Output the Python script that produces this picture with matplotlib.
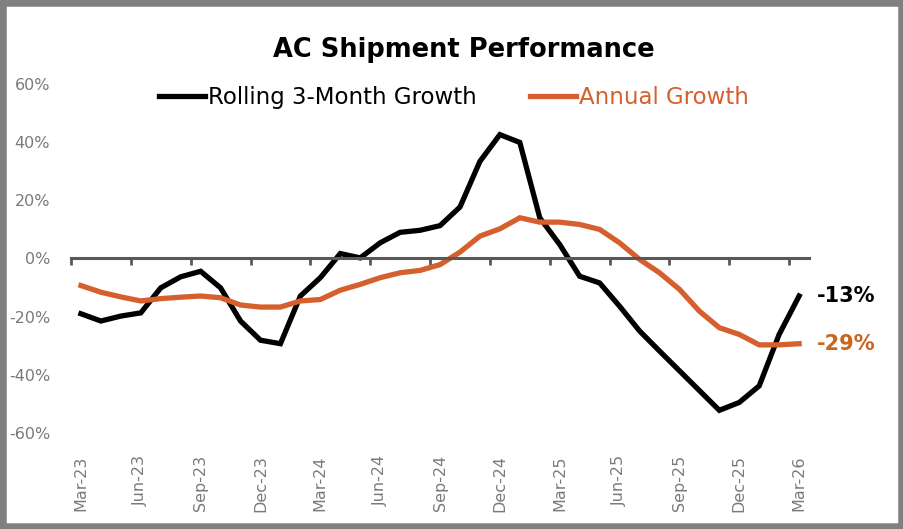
import matplotlib
matplotlib.use("Agg")
import matplotlib.pyplot as plt
import matplotlib.patches as patches
from matplotlib.ticker import FixedLocator, FuncFormatter
import numpy as np

months = ["Mar-23", "Apr-23", "May-23", "Jun-23", "Jul-23", "Aug-23", "Sep-23", "Oct-23",
          "Nov-23", "Dec-23", "Jan-24", "Feb-24", "Mar-24", "Apr-24", "May-24", "Jun-24",
          "Jul-24", "Aug-24", "Sep-24", "Oct-24", "Nov-24", "Dec-24", "Jan-25", "Feb-25",
          "Mar-25", "Apr-25", "May-25", "Jun-25", "Jul-25", "Aug-25", "Sep-25", "Oct-25",
          "Nov-25", "Dec-25", "Jan-26", "Feb-26", "Mar-26"]

rolling_3m = [-19.0, -21.5, -19.8, -18.7, -10.1, -6.3, -4.4, -10.1, -21.5, -28.1, -29.3,
              -12.9, -6.6, 1.7, 0.2, 5.4, 9.0, 9.7, 11.3, 17.7, 33.4, 42.6, 39.9, 14.0,
              4.8, -6.1, -8.4, -16.4, -24.9, -31.8, -38.6, -45.4, -52.2, -49.5, -43.8,
              -26.1, -12.9]

annual = [-9.3, -11.6, -13.2, -14.6, -13.8, -13.3, -12.9, -13.5, -16.0, -16.7, -16.7,
          -14.6, -14.1, -10.9, -8.9, -6.6, -4.9, -4.1, -2.1, 2.2, 7.7, 10.2, 14.0, 12.5,
          12.5, 11.7, 10.0, 5.4, -0.3, -4.9, -10.6, -18.1, -23.8, -26.1, -29.7, -29.7,
          -29.3]

black = "#000000"
orange = "#D65F2E"
grey = "#595959"
label_grey = "#7A7A7A"

x = np.arange(len(months))

fig = plt.figure(figsize=(9.04, 5.29), dpi=100)
ax = fig.add_axes([0.0785, 0.1815, 0.8165, 0.6597])

ax.plot(x, rolling_3m, color=black, lw=3.8, solid_joinstyle="miter", label="Rolling 3-Month Growth")
ax.plot(x, annual, color=orange, lw=3.8, solid_joinstyle="miter", label="Annual Growth")

ax.set_xlim(-0.5, len(months) - 0.5)
ax.set_ylim(-60, 60)

# y axis: labels only
for s in ["left", "right", "top"]:
    ax.spines[s].set_visible(False)
ax.set_yticks(np.arange(-60, 61, 20))
ax.yaxis.set_major_formatter(FuncFormatter(lambda v, p: "%d%%" % v))
ax.tick_params(axis="y", length=0, pad=15, labelsize=11.5, labelcolor=label_grey)

# zero line with tick marks between categories
ax.spines["bottom"].set_position(("data", 0))
ax.spines["bottom"].set_color(grey)
ax.spines["bottom"].set_linewidth(2.2)
ax.xaxis.set_major_locator(FixedLocator(np.arange(-0.5, len(months) - 1, 3)))
ax.tick_params(axis="x", length=5, width=2, color=grey, labelbottom=False, direction="out")

# month labels at the bottom of the plot
sec = ax.secondary_xaxis(0)
sec.spines["bottom"].set_visible(False)
sec.set_xticks(x[::3])
sec.set_xticklabels(months[::3], rotation=90)
sec.tick_params(length=0, pad=16, labelsize=11.5, labelcolor=label_grey)

# end labels
ax.annotate("%d%%" % round(rolling_3m[-1]), (x[-1], rolling_3m[-1]), xytext=(13, 0),
            textcoords="offset points", va="center", ha="left", fontsize=15,
            fontweight="bold", color=black, annotation_clip=False)
ax.annotate("%d%%" % round(annual[-1]), (x[-1], annual[-1]), xytext=(13, 0),
            textcoords="offset points", va="center", ha="left", fontsize=15,
            fontweight="bold", color="#C9651F", annotation_clip=False)

fig.text(0.513, 0.905, "AC Shipment Performance", ha="center", va="center",
         fontsize=18.5, fontweight="bold")

leg = ax.legend(loc="center", bbox_to_anchor=(0.519, 0.96), ncol=2, frameon=False,
                fontsize=16.5, handlelength=2.0, handletextpad=0.15, columnspacing=2.3,
                borderaxespad=0)
for txt, line in zip(leg.get_texts(), leg.get_lines()):
    txt.set_color(line.get_color())

fig.patches.append(patches.Rectangle((0, 0), 1, 1, transform=fig.transFigure,
                                     fill=False, edgecolor="#808080", linewidth=9))

plt.savefig("out.png", dpi=100)
